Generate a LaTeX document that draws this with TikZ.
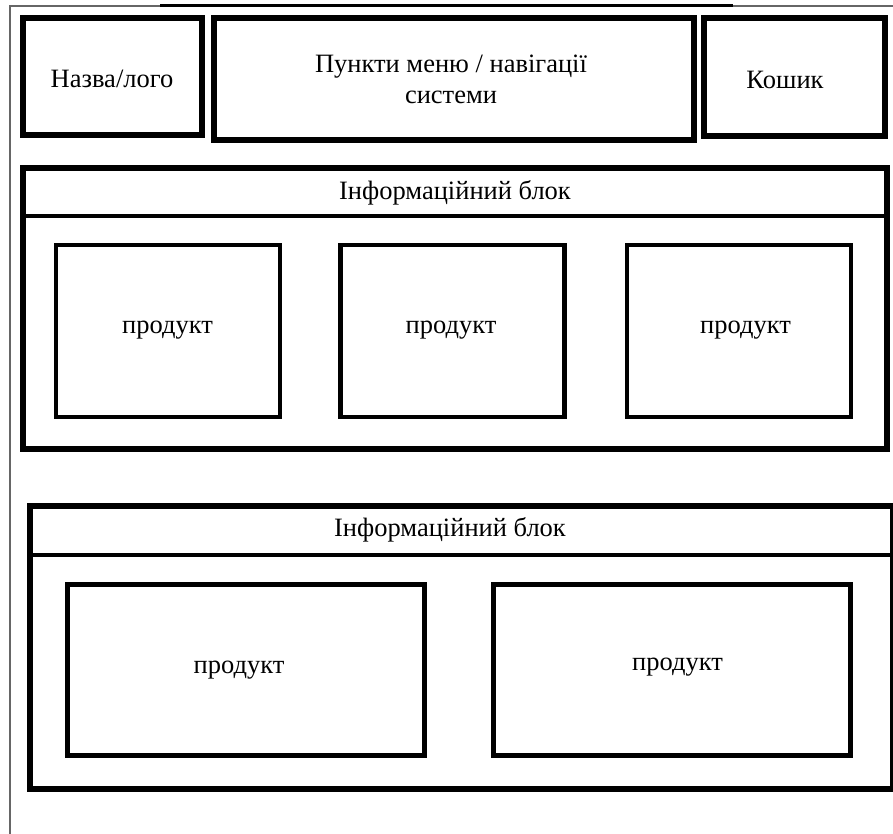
\documentclass[tikz,border=0pt]{standalone}
\usepackage{fontspec}
\setmainfont{Liberation Serif}
\begin{document}
\begin{tikzpicture}[x=1pt,y=-1pt,
  lbl/.style={font=\fontsize{26.5}{31}\selectfont, inner sep=0pt, align=center},
  heavybox/.style={draw=black, line width=6pt, inner sep=0pt},
  itembox/.style={draw=black, line width=4.5pt, inner sep=0pt},
  frameline/.style={draw=black!60, line width=2pt},
]
\useasboundingbox (0,0) rectangle (893,834);

% page frame
\coordinate (ftl) at (10,6);
\coordinate (fbl) at (10,834);
\coordinate (fa) at (160,6);
\coordinate (fb) at (733,6);
\coordinate (ftr) at (893,6);
\draw[frameline] (fbl) -- (ftl) -- (fa);
\draw[black, line width=3pt] (fa) -- (fb);
\draw[frameline] (fb) -- (ftr);

% header row
\node[heavybox, minimum width=179pt, minimum height=117pt] (logo) at (112.5,76.5) {};
\node[lbl] at (112,79) {Назва/лого};
\node[heavybox, minimum width=480pt, minimum height=122pt] (menu) at (454,79) {};
\node[lbl] at (451,79) {Пункти меню / навігації\\системи};
\node[heavybox, minimum width=181pt, minimum height=118pt] (cart) at (794.5,77) {};
\node[lbl] at (785,80) {Кошик};

% first information block
\node[heavybox, minimum width=864pt, minimum height=281pt] (infoA) at (455,308.5) {};
\coordinate (divA) at (0,216.5);
\draw[black, line width=4pt] (infoA.west |- divA) -- (infoA.east |- divA);
\node[lbl] at (455,193) {Інформаційний блок};
\node[itembox, minimum width=224pt, minimum height=172pt] (pA1) at (168,331) {};
\node[lbl] at (167.5,330) {продукт};
\node[itembox, minimum width=224pt, minimum height=172pt] (pA2) at (452.5,331) {};
\node[lbl] at (451,330) {продукт};
\node[itembox, minimum width=224pt, minimum height=172pt] (pA3) at (739,331) {};
\node[lbl] at (745.5,330) {продукт};

% second information block
\node[heavybox, minimum width=863pt, minimum height=283pt] (infoB) at (461.5,647.5) {};
\coordinate (divB) at (0,555);
\draw[black, line width=4pt] (infoB.west |- divB) -- (infoB.east |- divB);
\node[lbl] at (450,530) {Інформаційний блок};
\node[itembox, line width=5pt, minimum width=357pt, minimum height=171pt] (pB1) at (245.5,669.5) {};
\node[lbl] at (239,670) {продукт};
\node[itembox, line width=5pt, minimum width=356.5pt, minimum height=171pt] (pB2) at (671.75,669.5) {};
\node[lbl] at (677.5,667) {продукт};
\end{tikzpicture}
\end{document}
